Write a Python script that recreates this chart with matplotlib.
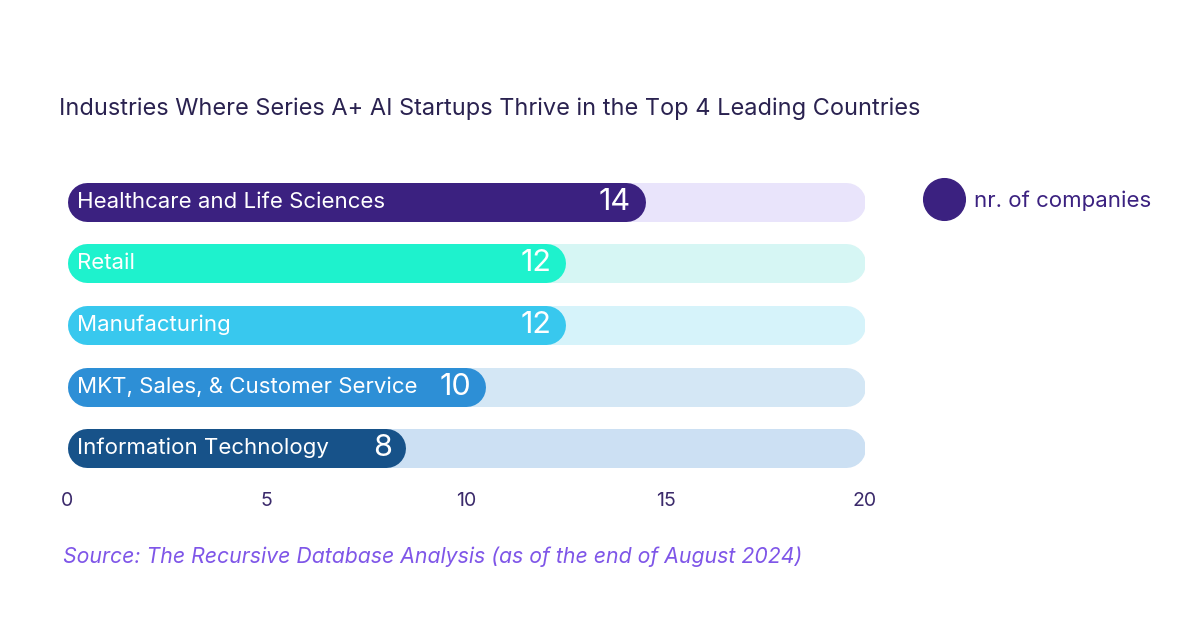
import matplotlib.pyplot as plt
from matplotlib.lines import Line2D

plt.rcParams['font.family'] = ['Inter', 'DejaVu Sans']

#data
industries = ['Healthcare and Life Sciences', 'Retail', 'Manufacturing',
              'MKT, Sales, & Customer Service', 'Information Technology']
companies = [14, 12, 12, 10, 8]
track_max = 20
bar_colors = ['#3B2180', '#1EF2CD', '#38C8EE', '#2D8FD6', '#175289']
track_colors = ['#E9E4FB', '#D6F6F4', '#D6F3FA', '#D4E7F5', '#CCE0F3']
x_ticks = [0, 5, 10, 15, 20]

title = 'Industries Where Series A+ AI Startups Thrive in the Top 4 Leading Countries'
source = 'Source: The Recursive Database Analysis (as of the end of August 2024)'

W, H, DPI = 1200, 628, 100
fig = plt.figure(figsize=(W / DPI, H / DPI), dpi=DPI)
fig.patch.set_facecolor('white')

#axes placed in pixels: x 0 -> 67px, 20 -> 865px ; rows from 171px to 479px
ax = fig.add_axes([67 / W, 1 - 479 / H, 798 / W, 308 / H])
ax.set_xlim(0, track_max)
ax.set_ylim(len(industries) - 0.5, -0.5)

bar_px = 39
lw = bar_px * 72 / DPI
r = (bar_px / 2) / (798 / track_max)  # cap radius in data units

for i, (name, val) in enumerate(zip(industries, companies)):
    # track
    ax.plot([r, track_max - r], [i, i], color=track_colors[i], lw=lw,
            solid_capstyle='round', zorder=1)
    # value bar
    ax.plot([r, val], [i, i], color=bar_colors[i], lw=lw,
            solid_capstyle='round', zorder=2)
    ax.text(0.25, i, name, color='white', fontsize=16, va='center',
            ha='left', zorder=3)
    ax.text(val + r - 0.35, i, str(val), color='white', fontsize=22,
            va='center', ha='right', zorder=3)

ax.set_xticks(x_ticks)
ax.set_yticks([])
ax.tick_params(axis='x', length=0, pad=9, labelsize=14, labelcolor='#3B2A6B')
for s in ax.spines.values():
    s.set_visible(False)

fig.text(59 / W, 1 - 109 / H, title, fontsize=16.95, color='#2A2250',
         va='center', ha='left')
fig.text(63 / W, 1 - 557 / H, source, fontsize=15.3, color='#7F56E8',
         style='italic', va='center', ha='left')

handle = Line2D([], [], marker='o', linestyle='none', markersize=30,
                markerfacecolor='#3B2180', markeredgecolor='#3B2180')
fig.legend([handle], ['nr. of companies'], loc='center left',
           bbox_to_anchor=(916 / W, 1 - 201 / H), frameon=False,
           fontsize=16, labelcolor='#3B2180', handletextpad=0.6,
           borderpad=0, handlelength=1.5)

fig.savefig('out.png', dpi=DPI)
